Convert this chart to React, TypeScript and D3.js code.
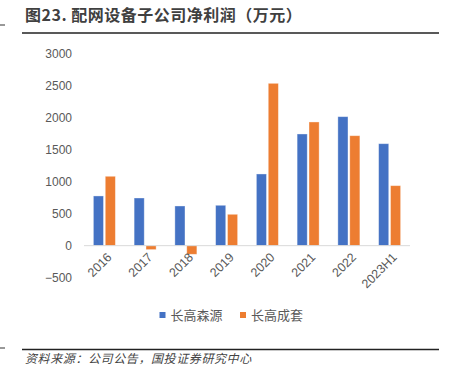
import React from "react";
import * as d3 from "d3";

const categories = ["2016", "2017", "2018", "2019", "2020", "2021", "2022", "2023H1"];
const seriesNames = ["长高森源", "长高成套"];
const senyuan = [778, 746, 621, 632, 1122, 1748, 2019, 1596];
const chengtao = [1086, -62, -135, 491, 2541, 1936, 1721, 939];
const yTicks = [-500, 0, 500, 1000, 1500, 2000, 2500, 3000];
const colors = ["#4472C4", "#ED7D31"];

const title = "图23. 配网设备子公司净利润（万元）";
const source = "资料来源：公司公告，国投证券研究中心";

export default function App() {
  const W = 450, H = 375;
  const x0 = d3.scaleBand<string>().domain(categories).range([84, 410]).padding(0);
  const x1 = d3.scaleBand<string>().domain(seriesNames).range([-11, 11]).paddingInner(0.15);
  const y = d3.scaleLinear().domain([-500, 3000]).range([277.6, 54]);
  const series = [senyuan, chengtao];
  const numFont = "'Liberation Sans', Arial, sans-serif";
  const cjkFont = "'Noto Sans CJK SC', sans-serif";

  return (
    <svg width={W} height={H} style={{ position: "absolute", left: 0, top: 0, background: "#fff" }}>
      <rect x={0} y={0} width={W} height={H} fill="#fff" />
      {/* title */}
      <text x={25} y={21} fontFamily={cjkFont} fontSize={16} letterSpacing={0.5} fontWeight={700} fill="#404040">
        {title}
      </text>
      <line x1={0} x2={5} y1={25} y2={25} stroke="#333" strokeWidth={1} />
      <line x1={22} x2={439} y1={33} y2={33} stroke="#222" strokeWidth={1.3} />

      {/* y axis labels */}
      {yTicks.map((t) => (
        <text key={t} x={72} y={y(t)} dy="0.35em" textAnchor="end" fontFamily={numFont} fontSize={12} fill="#595959">
          {t < 0 ? "\u2212" + Math.abs(t) : t}
        </text>
      ))}

      {/* bars */}
      {categories.map((c, i) => {
        const cx = (x0(c) as number) + x0.bandwidth() / 2;
        return (
          <g key={c}>
            {series.map((s, j) => {
              const v = s[i];
              const yTop = y(Math.max(0, v));
              const h = Math.abs(y(v) - y(0));
              return (
                <rect
                  key={j}
                  x={cx + (x1(seriesNames[j]) as number)}
                  y={yTop}
                  width={x1.bandwidth()}
                  height={h}
                  fill={colors[j]}
                  stroke="#fff"
                  strokeOpacity={0.45}
                  strokeWidth={0.8}
                />
              );
            })}
          </g>
        );
      })}

      {/* zero line */}
      <line x1={84} x2={410} y1={y(0)} y2={y(0)} stroke="#d9d9d9" strokeWidth={1} />

      {/* x labels */}
      {categories.map((c) => {
        const cx = (x0(c) as number) + x0.bandwidth() / 2;
        return (
          <text
            key={c}
            transform={`translate(${cx + 5},${255}) rotate(-45)`}
            textAnchor="end"
            dy="0.35em"
            fontFamily={numFont}
            fontSize={12.5}
            fill="#595959"
          >
            {c}
          </text>
        );
      })}

      {/* legend */}
      {seriesNames.map((n, j) => {
        const lx = j === 0 ? 159.5 : 240;
        return (
          <g key={n}>
            <rect x={lx} y={312} width={6} height={6} fill={colors[j]} />
            <text x={lx + 11} y={315} dy="0.35em" fontFamily={cjkFont} fontSize={13} fill="#595959">
              {n}
            </text>
          </g>
        );
      })}

      {/* source */}
      <line x1={0} x2={5} y1={348} y2={348} stroke="#333" strokeWidth={1} />
      <line x1={22} x2={439} y1={349.5} y2={349.5} stroke="#222" strokeWidth={1.3} />
      <text x={25} y={363} fontFamily={cjkFont} fontSize={12} letterSpacing={0.6} fontStyle="italic" fill="#444">
        {source}
      </text>
    </svg>
  );
}
